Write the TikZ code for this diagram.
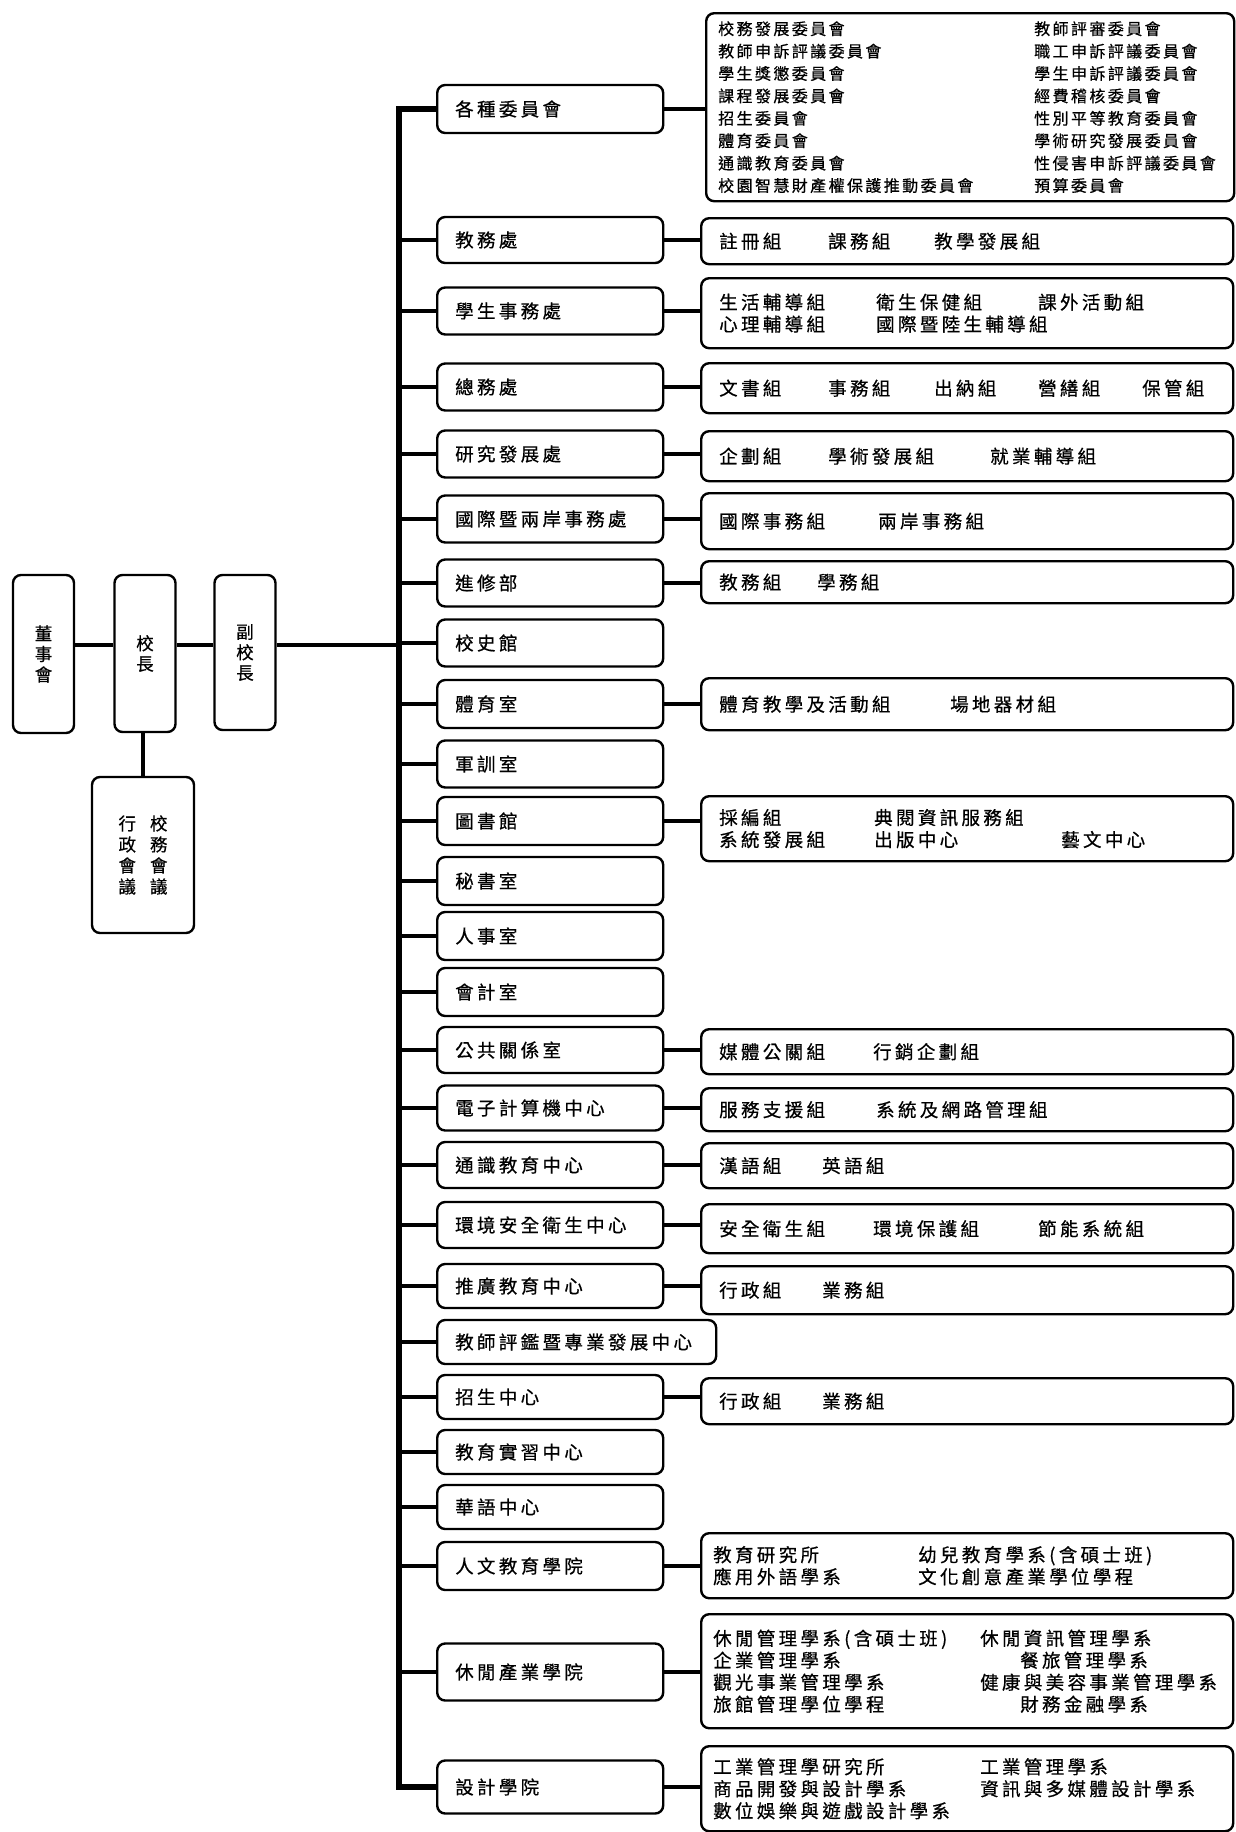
\documentclass[tikz,border=0pt]{standalone}
\usepackage{fontspec}
\setmainfont{Noto Sans CJK TC}[FakeBold=0.6]
\newfontfamily\fmid[LetterSpace=18,FakeBold=0.6]{Noto Sans CJK TC}
\newfontfamily\fcom[LetterSpace=15,FakeBold=0.6]{Noto Sans CJK TC}
\newcommand\cl[2]{\makebox[#1pt][l]{#2}}
\begin{document}
\begin{tikzpicture}[x=1pt,y=-1pt,
  box/.style={draw=black, line width=2.4pt, rounded corners=8pt},
  midbox/.style={box, anchor=west, text width=190pt, inner xsep=18pt, inner ysep=0pt,
    minimum height=46pt, align=left, font=\fmid\fontsize{18.5}{22}\selectfont},
  subbox/.style={box, anchor=north west, text width=496pt, inner xsep=18pt, inner ysep=0pt,
    align=left, font=\fmid\fontsize{18.5}{22}\selectfont},
  colbox/.style={subbox, text width=508pt, inner xsep=12pt},
  vbox/.style={box, minimum width=61pt, align=center, inner sep=0pt,
    font=\fontsize{17.5}{20.5}\selectfont},
  link/.style={line width=4pt},
  trunkline/.style={line width=5.5pt, line join=miter}]
\useasboundingbox (0,0) rectangle (1236,1832);

% left part
\node[vbox, minimum height=158pt] (bod) at (43.5,654) {董\\事\\會};
\node[vbox, minimum height=157pt] (pres) at (145,653.5) {校\\長};
\node[vbox, minimum height=155pt] (vp) at (245,652.5) {副\\校\\長};
\node[vbox, minimum width=102pt, minimum height=156pt, font=\fontsize{17.5}{21}\selectfont] (meet) at (143,855)
  {行\hspace{14pt}校\\政\hspace{14pt}務\\會\hspace{14pt}會\\議\hspace{14pt}議};

% middle column
\node[midbox, minimum height=48pt] (m1) at (436,109) {各種委員會};
\node[midbox] (m2) at (436,240) {教務處};
\node[midbox, minimum height=47pt] (m3) at (436,311) {學生事務處};
\node[midbox, minimum height=47pt] (m4) at (436,387) {總務處};
\node[midbox, minimum height=47pt] (m5) at (436,454) {研究發展處};
\node[midbox, minimum height=47pt] (m6) at (436,519) {國際暨兩岸事務處};
\node[midbox, minimum height=47pt] (m7) at (436,583) {進修部};
\node[midbox, minimum height=47pt] (m8) at (436,643) {校史館};
\node[midbox, minimum height=48pt] (m9) at (436,704) {體育室};
\node[midbox, minimum height=47pt] (m10) at (436,764) {軍訓室};
\node[midbox, minimum height=48pt] (m11) at (436,821) {圖書館};
\node[midbox, minimum height=48pt] (m12) at (436,881) {秘書室};
\node[midbox, minimum height=48pt] (m13) at (436,936) {人事室};
\node[midbox, minimum height=48pt] (m14) at (436,992) {會計室};
\node[midbox] (m15) at (436,1050) {公共關係室};
\node[midbox, minimum height=45pt] (m16) at (436,1108) {電子計算機中心};
\node[midbox] (m17) at (436,1165) {通識教育中心};
\node[midbox] (m18) at (436,1225) {環境安全衛生中心};
\node[midbox, minimum height=44pt] (m19) at (436,1286) {推廣教育中心};
\node[midbox, minimum height=44pt, text width=243pt] (m20) at (436,1342) {教師評鑑暨專業發展中心};
\node[midbox, minimum height=44pt] (m21) at (436,1397) {招生中心};
\node[midbox, minimum height=44pt] (m22) at (436,1452) {教育實習中心};
\node[midbox, minimum height=44pt] (m23) at (436,1507) {華語中心};
\node[midbox, minimum height=48pt] (m24) at (436,1566) {人文教育學院};
\node[midbox, minimum height=57pt] (m25) at (436,1672) {休閒產業學院};
\node[midbox, minimum height=53pt] (m26) at (436,1787) {設計學院};

% sub boxes
\node[subbox, text width=504pt, inner xsep=12pt, minimum height=188pt,
  font=\fcom\fontsize{16}{22.4}\selectfont] (s1) at (705,12)
 {\cl{316}{校務發展委員會}教師評審委員會\\
  \cl{316}{教師申訴評議委員會}職工申訴評議委員會\\
  \cl{316}{學生獎懲委員會}學生申訴評議委員會\\
  \cl{316}{課程發展委員會}經費稽核委員會\\
  \cl{316}{招生委員會}性別平等教育委員會\\
  \cl{316}{體育委員會}學術研究發展委員會\\
  \cl{316}{通識教育委員會}性侵害申訴評議委員會\\
  \cl{316}{校園智慧財產權保護推動委員會}預算委員會};
\node[subbox, minimum height=46pt] (s2) at (700,217) {\cl{109}{註冊組}\cl{106}{課務組}教學發展組};
\node[subbox, minimum height=70pt] (s3) at (700,277)
 {\cl{157}{生活輔導組}\cl{162}{衛生保健組}課外活動組\\\cl{157}{心理輔導組}國際暨陸生輔導組};
\node[subbox, minimum height=50pt] (s4) at (700,362)
 {\cl{109}{文書組}\cl{106}{事務組}\cl{104}{出納組}\cl{104}{營繕組}保管組};
\node[subbox, minimum height=50pt] (s5) at (700,430) {\cl{109}{企劃組}\cl{162}{學術發展組}就業輔導組};
\node[subbox, minimum height=56pt] (s6) at (700,492) {\cl{159}{國際事務組}兩岸事務組};
\node[subbox, minimum height=42pt] (s7) at (700,560) {\cl{98}{教務組}學務組};
\node[subbox, minimum height=52pt] (s9) at (700,677) {\cl{231}{體育教學及活動組}場地器材組};
\node[subbox, minimum height=65pt] (s11) at (700,795)
 {\cl{155}{採編組}典閱資訊服務組\\\cl{155}{系統發展組}\cl{187}{出版中心}藝文中心};
\node[subbox, minimum height=45pt] (s15) at (700,1028) {\cl{154}{媒體公關組}行銷企劃組};
\node[subbox, minimum height=43pt] (s16) at (700,1087) {\cl{157}{服務支援組}系統及網路管理組};
\node[subbox, minimum height=45pt] (s17) at (700,1142) {\cl{103}{漢語組}英語組};
\node[subbox, minimum height=49pt] (s18) at (700,1203) {\cl{154}{安全衛生組}\cl{165}{環境保護組}節能系統組};
\node[subbox, minimum height=48pt] (s19) at (700,1265) {\cl{103}{行政組}業務組};
\node[subbox, minimum height=46pt] (s21) at (700,1377) {\cl{103}{行政組}業務組};
\node[colbox, minimum height=65pt] (s24) at (700,1532)
 {\cl{205}{教育研究所}幼兒教育學系(含碩士班)\\\cl{205}{應用外語學系}文化創意產業學位學程};
\node[colbox, minimum height=114pt] (s25) at (700,1613)
 {\cl{267}{休閒管理學系(含碩士班)}休閒資訊管理學系\\
  \cl{307}{企業管理學系}餐旅管理學系\\
  \cl{267}{觀光事業管理學系}健康與美容事業管理學系\\
  \cl{307}{旅館管理學位學程}財務金融學系};
\node[colbox, minimum height=85pt] (s26) at (700,1745)
 {\cl{267}{工業管理學研究所}工業管理學系\\
  \cl{267}{商品開發與設計學系}資訊與多媒體設計學系\\
  數位娛樂與遊戲設計學系};

% connectors
\coordinate (tx) at (399,0);
\coordinate (hl) at (0,645);
\draw[link] (bod.east |- hl) -- (pres.west |- hl);
\draw[link] (pres.east |- hl) -- (vp.west |- hl);
\draw[link] (vp.east |- hl) -- (hl -| tx);
\draw[link] (meet.north |- pres.south) -- (meet.north);
\draw[trunkline] (m1.west) -- (m1.west -| tx) -- (m26.west -| tx) -- (m26.west);
\foreach \i in {2,...,25} \draw[link] (m\i.west -| tx) -- (m\i.west);
\foreach \i in {1,2,3,4,5,6,7,9,11,15,16,17,18,19,21,24,25,26}
  \draw[link] (m\i.east) -- (m\i.east -| s\i.west);
\end{tikzpicture}
\end{document}
